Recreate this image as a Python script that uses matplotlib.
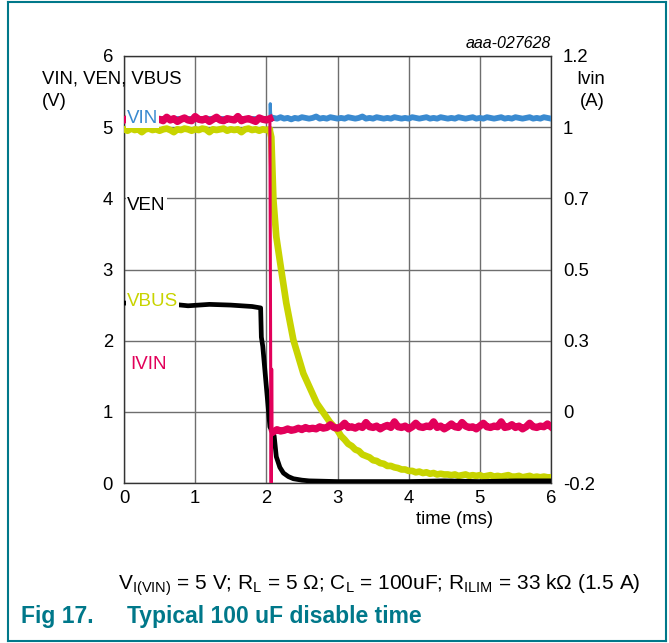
import numpy as np
import matplotlib
matplotlib.use("Agg")
import matplotlib.pyplot as plt
from matplotlib.lines import Line2D

plt.rcParams['font.family'] = ['Liberation Sans', 'DejaVu Sans']
plt.rcParams['mathtext.fontset'] = 'custom'
plt.rcParams['mathtext.rm'] = 'Liberation Sans'
plt.rcParams['mathtext.it'] = 'Liberation Sans:italic'

# ---------------- data ----------------
x_ticks = [0, 1, 2, 3, 4, 5, 6]
x_tick_labels = ["0", "1", "2", "3", "4", "5", "6"]
left_tick_labels = ["0", "1", "2", "3", "4", "5", "6"]
right_tick_labels = ["-0.2", "0", "0.3", "0.5", "0.7", "1", "1.2"]

# sample times (ms)
t_pre = np.linspace(0.0, 2.05, 42)
t_post = np.linspace(2.10, 6.00, 79)
t_tail = np.linspace(3.05, 6.00, 60)

# IVIN (plotted on the left scale)
ivin_pre = [5.10, 5.12, 5.09, 5.11, 5.13, 5.10, 5.08, 5.12, 5.15, 5.10,
            5.11, 5.09, 5.14, 5.10, 5.12, 5.08, 5.11, 5.13, 5.10, 5.09,
            5.15, 5.11, 5.10, 5.12, 5.08, 5.11, 5.14, 5.10, 5.09, 5.12,
            5.11, 5.10, 5.15, 5.09, 5.11, 5.12, 5.10, 5.08, 5.13, 5.11,
            5.10, 5.12]
ivin_step_t = [2.05, 2.06, 2.065, 2.07, 2.075, 2.08, 2.09, 2.10]
ivin_step_v = [5.10, 2.00, 0.00, 0.00, 1.60, 0.70, 0.72, 0.72]
ivin_post = [0.72, 0.75, 0.73, 0.74, 0.76, 0.74, 0.75, 0.77, 0.75, 0.78,
             0.76, 0.77, 0.76, 0.79, 0.77, 0.78, 0.82, 0.78, 0.77, 0.79,
             0.84, 0.78, 0.79, 0.77, 0.80, 0.78, 0.85, 0.79, 0.78, 0.80,
             0.76, 0.79, 0.81, 0.78, 0.86, 0.79, 0.78, 0.80, 0.76, 0.79,
             0.84, 0.79, 0.78, 0.80, 0.79, 0.86, 0.78, 0.80, 0.76, 0.79,
             0.83, 0.79, 0.78, 0.85, 0.80, 0.78, 0.79, 0.76, 0.80, 0.84,
             0.79, 0.78, 0.80, 0.79, 0.86, 0.78, 0.79, 0.82, 0.78, 0.80,
             0.76, 0.79, 0.84, 0.79, 0.78, 0.80, 0.79, 0.83, 0.79]

# VIN
vin_pre_t = [0.0, 2.05]
vin_pre_v = [5.12, 5.12]
vin_step_t = [2.05, 2.055, 2.06, 2.07, 2.08]
vin_step_v = [5.12, 5.33, 5.20, 5.14, 5.12]
vin_post = [5.13, 5.12, 5.14, 5.12, 5.13, 5.11, 5.13, 5.12, 5.14, 5.13,
            5.12, 5.13, 5.15, 5.12, 5.13, 5.12, 5.14, 5.13, 5.12, 5.13,
            5.12, 5.14, 5.13, 5.12, 5.13, 5.15, 5.12, 5.13, 5.12, 5.14,
            5.13, 5.12, 5.13, 5.12, 5.14, 5.13, 5.12, 5.13, 5.12, 5.14,
            5.13, 5.12, 5.13, 5.14, 5.12, 5.13, 5.12, 5.14, 5.13, 5.12,
            5.13, 5.12, 5.14, 5.13, 5.12, 5.13, 5.14, 5.12, 5.13, 5.12,
            5.14, 5.13, 5.12, 5.13, 5.14, 5.12, 5.13, 5.12, 5.14, 5.13,
            5.12, 5.13, 5.14, 5.12, 5.13, 5.12, 5.14, 5.13, 5.12]

# VBUS
vbus_pre = [4.97, 4.95, 4.98, 4.96, 4.97, 4.93, 4.97, 4.98, 4.96, 4.97,
            4.95, 4.97, 4.98, 4.96, 4.93, 4.97, 4.96, 4.98, 4.97, 4.95,
            4.97, 4.96, 4.98, 4.97, 4.93, 4.97, 4.96, 4.97, 4.98, 4.95,
            4.97, 4.96, 4.97, 4.93, 4.97, 4.98, 4.96, 4.97, 4.95, 4.97,
            4.96, 4.97]
vbus_decay_t = [2.05, 2.07, 2.10, 2.14, 2.21, 2.28, 2.38, 2.52, 2.71, 2.89, 3.00]
vbus_decay_v = [4.95, 4.86, 3.97, 3.46, 2.99, 2.53, 2.01, 1.54, 1.12, 0.86, 0.74]
vbus_tail = [0.66, 0.61, 0.55, 0.52, 0.47, 0.45, 0.40, 0.38, 0.36, 0.32,
             0.31, 0.28, 0.27, 0.24, 0.24, 0.22, 0.21, 0.19, 0.19, 0.17,
             0.17, 0.15, 0.16, 0.14, 0.15, 0.13, 0.14, 0.12, 0.13, 0.12,
             0.12, 0.11, 0.12, 0.10, 0.11, 0.12, 0.10, 0.11, 0.10, 0.11,
             0.09, 0.10, 0.11, 0.09, 0.10, 0.09, 0.10, 0.11, 0.09, 0.09,
             0.10, 0.08, 0.09, 0.10, 0.08, 0.09, 0.08, 0.09, 0.08, 0.08]

# VEN
ven_t = [0.0, 0.3, 0.6, 0.9, 1.2, 1.5, 1.8, 1.92, 1.93, 1.95, 2.05, 2.11,
         2.14, 2.19, 2.24, 2.31, 2.38, 2.5, 2.6, 3.0, 3.5, 4.0, 4.5, 5.0,
         5.5, 6.0]
ven_v = [2.53, 2.50, 2.52, 2.49, 2.51, 2.50, 2.48, 2.46, 2.05, 1.92, 0.79,
         0.66, 0.37, 0.22, 0.14, 0.09, 0.06, 0.04, 0.03, 0.02, 0.02, 0.02,
         0.03, 0.02, 0.03, 0.03]

# ---------------- styles ----------------
C_BLUE = "#3a8ad0"
C_RED = "#e2005a"
C_YEL = "#c8d400"
C_BLK = "#000000"
C_TEAL = "#00788a"
FS = 13.3

W, H = 669, 643
fig = plt.figure(figsize=(W / 100, H / 100), dpi=100)
ax = fig.add_axes([124 / W, 1 - 483 / H, (551 - 124) / W, (483 - 56) / H])

# traces
ax.plot(np.concatenate([t_pre, vbus_decay_t, t_tail]),
        np.concatenate([vbus_pre, vbus_decay_v, vbus_tail]),
        color=C_YEL, lw=4.8, zorder=3, solid_joinstyle='round')
ax.plot(ven_t, ven_v, color=C_BLK, lw=3.4, zorder=4)
ax.plot(vin_pre_t, vin_pre_v, color=C_BLUE, lw=4.2, zorder=4)
ax.plot(vin_step_t, vin_step_v, color=C_BLUE, lw=2.2, zorder=4)
ax.plot(t_post, vin_post, color=C_BLUE, lw=4.2, zorder=4)
ax.plot(t_pre, ivin_pre, color=C_RED, lw=5.2, zorder=5)
ax.plot(ivin_step_t, ivin_step_v, color=C_RED, lw=2.2, zorder=5)
ax.plot(t_post, ivin_post, color=C_RED, lw=5.2, zorder=5)

ax.set_xlim(0, 6)
ax.set_ylim(0, 6)
ax.set_xticks(x_ticks)
ax.set_xticklabels(x_tick_labels)
ax.set_yticks(x_ticks)
ax.set_yticklabels(left_tick_labels)
ax.tick_params(axis='both', length=0, labelsize=FS, colors='black')
ax.tick_params(axis='y', pad=8)
ax.tick_params(axis='x', pad=5)
ax.grid(True, color='#6e6e6e', lw=1.0, zorder=1)
ax.set_axisbelow(True)
for s in ax.spines.values():
    s.set_color('#333333')
    s.set_linewidth(1.0)

ax2 = ax.twinx()
ax2.set_ylim(0, 6)
ax2.set_yticks(x_ticks)
ax2.set_yticklabels(right_tick_labels)
ax2.tick_params(axis='y', length=0, labelsize=FS, pad=8.5)
for s in ax2.spines.values():
    s.set_visible(False)

# trace labels
lbl_box = dict(facecolor='white', edgecolor='none', pad=1.0)
ax2.text(0.04, 5.12, "VIN", color=C_BLUE, fontsize=13.5, va='center', ha='left', bbox=lbl_box, zorder=10)
ax2.text(0.04, 3.90, "VEN", color=C_BLK, fontsize=13.5, va='center', ha='left', bbox=lbl_box, zorder=10)
ax2.text(0.04, 2.55, "VBUS", color=C_YEL, fontsize=13.5, va='center', ha='left', bbox=lbl_box, zorder=10)
ax2.text(0.09, 1.66, "IVIN", color=C_RED, fontsize=13.5, va='center', ha='left', bbox=lbl_box, zorder=10)

# axis titles
fig.text(42 / W, 1 - 79 / H, "VIN, VEN, VBUS", fontsize=FS, ha='left', va='center')
fig.text(42 / W, 1 - 101 / H, "(V)", fontsize=FS, ha='left', va='center')
fig.text(591 / W, 1 - 79 / H, "Ivin", fontsize=FS, ha='center', va='center')
fig.text(592 / W, 1 - 101 / H, "(A)", fontsize=FS, ha='center', va='center')
fig.text(551 / W, 1 - 44 / H, "aaa-027628", fontsize=11.5, style='italic', ha='right', va='center')
fig.text(455 / W, 1 - 520 / H, "time (ms)", fontsize=FS, ha='center', va='center')

# caption and title
fig.text(118 / W, 1 - 585 / H,
         r"V$_\mathrm{I(VIN)}$ = 5 V; R$_\mathrm{L}$ = 5 Ω; C$_\mathrm{L}$ = 100uF; "
         r"R$_\mathrm{ILIM}$ = 33 kΩ (1.5 A)",
         fontsize=15, ha='left', va='center')
fig.text(21 / W, 1 - 617 / H, "Fig 17.", fontsize=16.5, fontweight='bold', color=C_TEAL, ha='left', va='center')
fig.text(127 / W, 1 - 617 / H, "Typical 100 uF disable time", fontsize=16.5, fontweight='bold',
         color=C_TEAL, ha='left', va='center')

# frame
for (x0, y0, x1, y1) in [(8, 2, 8, 641), (8, 2, 666, 2), (666, 2, 666, 641), (8, 641, 666, 641)]:
    fig.add_artist(Line2D([x0 / W, x1 / W], [1 - y0 / H, 1 - y1 / H], color=C_TEAL, lw=1.5))

fig.savefig("out.png", dpi=100)
